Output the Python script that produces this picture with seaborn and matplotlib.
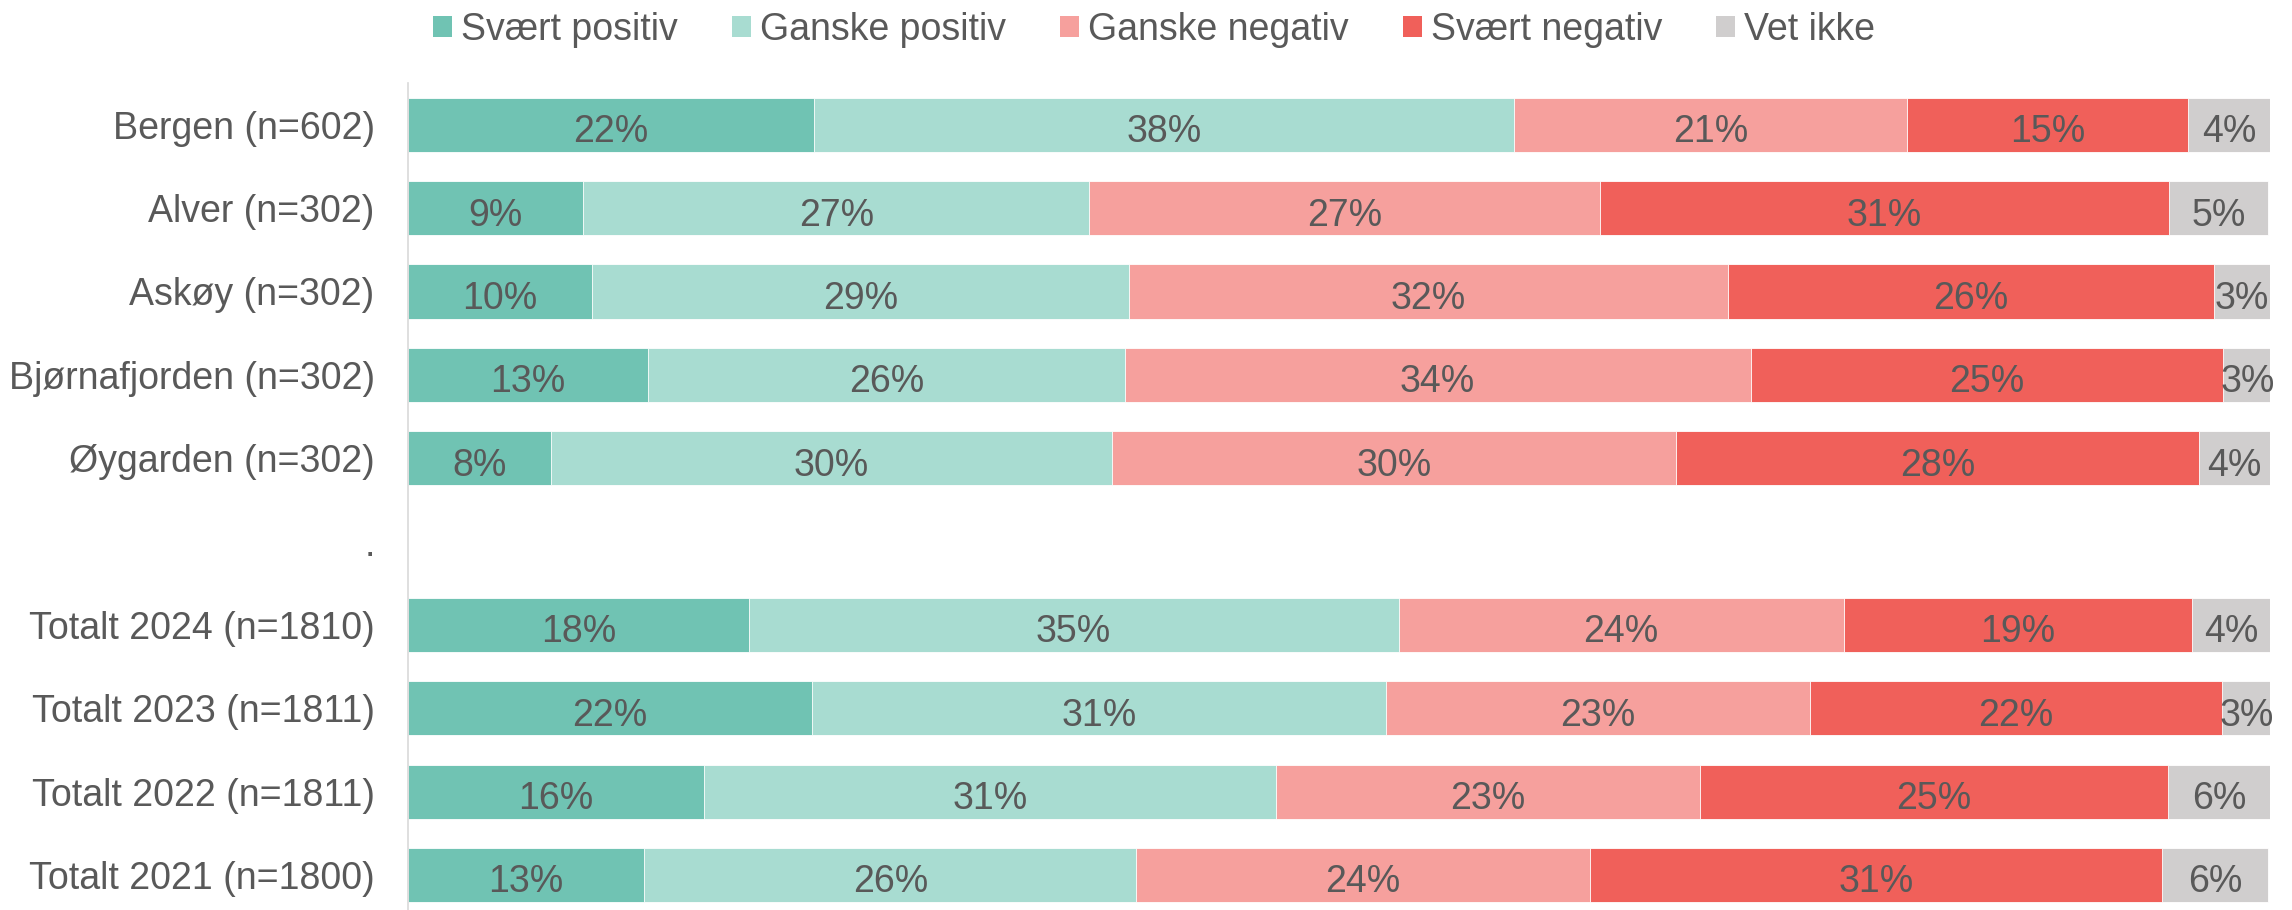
"""Stacked 100% bar chart: attitude by municipality and year."""

import matplotlib
matplotlib.use("Agg")
import matplotlib.pyplot as plt
from matplotlib.patches import Patch
from matplotlib.ticker import FixedLocator
import numpy as np
import pandas as pd
import seaborn as sns

rows = ["Bergen (n=602)", "Alver (n=302)", "Askøy (n=302)",
        "Bjørnafjorden (n=302)", "Øygarden (n=302)", ".",
        "Totalt 2024 (n=1810)", "Totalt 2023 (n=1811)",
        "Totalt 2022 (n=1811)", "Totalt 2021 (n=1800)"]

series = ["Svært positiv", "Ganske positiv", "Ganske negativ",
          "Svært negativ", "Vet ikke"]

svaert_pos = [21.8, 9.4, 9.9, 12.9, 7.7, np.nan, 18.3, 21.7, 15.9, 12.7]
ganske_pos = [37.6, 27.2, 28.8, 25.6, 30.1, np.nan, 34.9, 30.8, 30.7, 26.4]
ganske_neg = [21.1, 27.4, 32.2, 33.6, 30.3, np.nan, 23.9, 22.8, 22.8, 24.4]
svaert_neg = [15.1, 30.6, 26.1, 25.4, 28.1, np.nan, 18.7, 22.1, 25.1, 30.7]
vet_ikke = [4.4, 5.3, 3.0, 2.6, 3.8, np.nan, 4.2, 2.7, 5.6, 5.7]

colors = ["#70C3B3", "#A8DCD1", "#F6A09D", "#F0605A", "#D0CECE"]
TEXT = "#595959"
GRID = "#D9D9D9"

sns.set_style("white")
plt.rcParams["font.family"] = ["Liberation Sans", "DejaVu Sans"]
FS = 27

df = pd.DataFrame({"row": rows, series[0]: svaert_pos, series[1]: ganske_pos,
                   series[2]: ganske_neg, series[3]: svaert_neg,
                   series[4]: vet_ikke})
df = df.dropna()
cum = df[series].cumsum(axis=1)

fig = plt.figure(figsize=(22.92, 9.10), dpi=100)
ax = fig.add_axes([408 / 2292, 0.0, (2270 - 408) / 2292, 0.9088])

# draw cumulative bars back to front so each segment shows
for s, c in reversed(list(zip(series, colors))):
    sns.barplot(x=cum[s].values, y=df["row"].values, order=rows, orient="h",
                color=c, width=0.65, edgecolor="white", linewidth=0.6,
                ax=ax, saturation=1)

pos = {r: i for i, r in enumerate(rows)}
for _, r in df.iterrows():
    left = 0
    for s in series:
        v = r[s]
        ax.text(left + v / 2, pos[r["row"]] + 0.09, f"{v:.0f}%", ha="center",
                va="center", fontsize=FS, color=TEXT)
        left += v

ax.set_xlim(0, 100)
ax.set_ylim(9.42, -0.5)
ax.set_xlabel("")
ax.set_ylabel("")
ax.set_xticks([])
for side in ["top", "right", "bottom"]:
    ax.spines[side].set_visible(False)
ax.spines["left"].set_color(GRID)
ax.spines["left"].set_linewidth(1.2)
ax.tick_params(axis="y", which="major", length=0, pad=24,
               labelsize=FS, labelcolor=TEXT)
ax.yaxis.set_minor_locator(FixedLocator(np.arange(-0.5, 9.0, 1)))
ax.tick_params(axis="y", which="minor", length=8, width=1.2, color=GRID)

handles = [Patch(facecolor=c, edgecolor="none") for c in colors]
fig.legend(handles, series, loc="center", bbox_to_anchor=(0.5035, 0.967),
           ncol=5, frameon=False, fontsize=FS, labelcolor=TEXT,
           handlelength=0.5, handleheight=0.5, handletextpad=0.24,
           columnspacing=1.45, borderaxespad=0)

fig.savefig("out.png", dpi=100)
plt.close(fig)
